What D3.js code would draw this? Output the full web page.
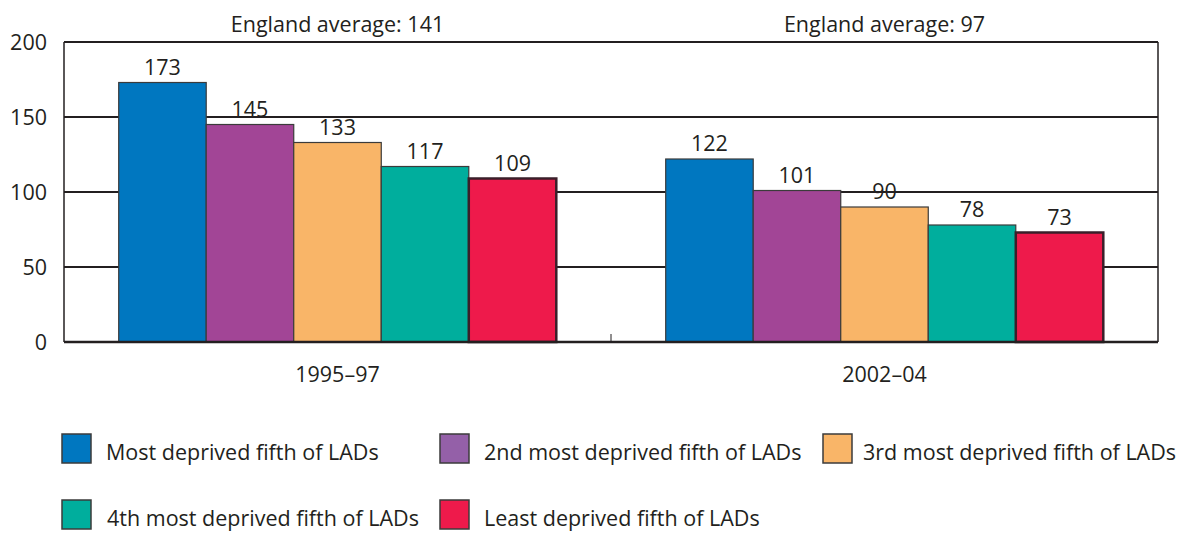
<!DOCTYPE html>
<html>
<head>
<meta charset="utf-8">
<script src="https://cdn.jsdelivr.net/npm/d3@7"></script>
<style>
  body { margin: 0; background: #fff; }
  text { font-family: "Open Sans", sans-serif; fill: #231f20; }
</style>
</head>
<body>
<div id="chart"></div>
<script>
let periods = ["1995–97", "2002–04"];
let averages = ["England average: 141", "England average: 97"];
let groups = ["Most deprived fifth of LADs", "2nd most deprived fifth of LADs", "3rd most deprived fifth of LADs", "4th most deprived fifth of LADs", "Least deprived fifth of LADs"];
let values = [
  [173, 145, 133, 117, 109],
  [122, 101, 90, 78, 73]
];
let colors = ["#0077c0", "#a24596", "#f9b568", "#00ae9d", "#ee1a4b"];
let legendColors = ["#0077c0", "#9460a8", "#f9b568", "#00ae9d", "#ee1a4b"];
let yTicks = [0, 50, 100, 150, 200];

let width = 1177, height = 533;
let margin = { top: 42, left: 64, right: 19, bottom: 191 };
let fontSize = "21.5px";

let svg = d3.select("#chart").append("svg")
  .attr("width", width)
  .attr("height", height);

let x0 = d3.scaleBand().domain(periods)
  .range([margin.left, width - margin.right])
  .paddingInner(0).paddingOuter(0);
let x1 = d3.scaleBand().domain(d3.range(groups.length))
  .range([0, x0.bandwidth()])
  .paddingOuter(0.625).paddingInner(0);
let y = d3.scaleLinear().domain([0, 200]).range([height - margin.bottom, margin.top]);

// gridlines
svg.append("g")
  .selectAll("line")
  .data(yTicks)
  .enter()
  .append("line")
  .attr("x1", margin.left)
  .attr("x2", width - margin.right)
  .attr("y1", d => y(d))
  .attr("y2", d => y(d))
  .attr("stroke", "#231f20")
  .attr("stroke-width", 2);

// left and right borders
svg.append("line")
  .attr("x1", margin.left).attr("x2", margin.left)
  .attr("y1", y(200)).attr("y2", y(0))
  .attr("stroke", "#231f20").attr("stroke-width", 1.5);
svg.append("line")
  .attr("x1", width - margin.right).attr("x2", width - margin.right)
  .attr("y1", y(200)).attr("y2", y(0))
  .attr("stroke", "#231f20").attr("stroke-width", 1.5);

// y labels
svg.append("g")
  .selectAll("text")
  .data(yTicks)
  .enter()
  .append("text")
  .attr("x", margin.left - 17)
  .attr("y", d => y(d) + 8)
  .attr("text-anchor", "end")
  .style("font-size", fontSize)
  .text(d => d);

// bars
let gp = svg.selectAll(".period")
  .data(periods)
  .enter()
  .append("g")
  .attr("class", "period")
  .attr("transform", d => "translate(" + x0(d) + ",0)");

gp.selectAll("rect")
  .data((d, i) => values[i].map((v, j) => ({ v: v, j: j })))
  .enter()
  .append("rect")
  .attr("x", d => x1(d.j))
  .attr("y", d => y(d.v))
  .attr("width", x1.bandwidth())
  .attr("height", d => y(0) - y(d.v))
  .attr("fill", d => colors[d.j])
  .attr("stroke", d => d.j == 4 ? "#3a1f2a" : "#3b3b3b")
  .attr("stroke-width", d => d.j == 4 ? 2.5 : 1.2);

gp.selectAll(".val")
  .data((d, i) => values[i].map((v, j) => ({ v: v, j: j })))
  .enter()
  .append("text")
  .attr("class", "val")
  .attr("x", d => x1(d.j) + x1.bandwidth() / 2)
  .attr("y", d => y(d.v) - 8)
  .attr("text-anchor", "middle")
  .style("font-size", fontSize)
  .text(d => d.v);

// averages
gp.append("text")
  .attr("x", x0.bandwidth() / 2)
  .attr("y", 32)
  .attr("text-anchor", "middle")
  .style("font-size", fontSize)
  .text((d, i) => averages[i]);

// category labels
gp.append("text")
  .attr("x", x0.bandwidth() / 2)
  .attr("y", y(0) + 40)
  .attr("text-anchor", "middle")
  .style("font-size", fontSize)
  .text(d => d);

// bottom axis
svg.append("line")
  .attr("x1", margin.left).attr("x2", width - margin.right)
  .attr("y1", y(0)).attr("y2", y(0))
  .attr("stroke", "#231f20").attr("stroke-width", 2.5);
svg.append("line")
  .attr("x1", x0(periods[1])).attr("x2", x0(periods[1]))
  .attr("y1", y(0)).attr("y2", y(0) - 8)
  .attr("stroke", "#231f20").attr("stroke-width", 1);

// legend
let legendPos = [
  { sx: 62, tx: 106, sy: 434 },
  { sx: 440, tx: 484, sy: 434 },
  { sx: 823, tx: 863, sy: 434 },
  { sx: 62, tx: 107, sy: 500 },
  { sx: 440, tx: 484, sy: 500 }
];
let lg = svg.append("g");
lg.selectAll("rect")
  .data(groups)
  .enter()
  .append("rect")
  .attr("x", (d, i) => legendPos[i].sx)
  .attr("y", (d, i) => legendPos[i].sy)
  .attr("width", 29)
  .attr("height", 29)
  .attr("fill", (d, i) => legendColors[i])
  .attr("stroke", "#3b3b3b")
  .attr("stroke-width", 1.5);
lg.selectAll("text")
  .data(groups)
  .enter()
  .append("text")
  .attr("x", (d, i) => legendPos[i].tx)
  .attr("y", (d, i) => legendPos[i].sy + 26)
  .style("font-size", fontSize)
  .text(d => d);
</script>
</body>
</html>
